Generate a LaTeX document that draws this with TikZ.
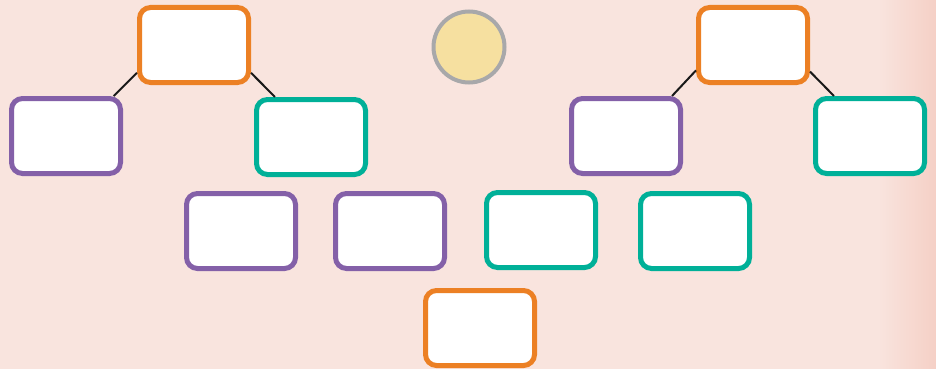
\documentclass[tikz,border=0pt]{standalone}
\usepackage{xcolor}
\usepackage{tikz}
\definecolor{pagebg}{RGB}{249,228,222}
\definecolor{pageedge}{RGB}{245,208,198}
\definecolor{boxorange}{RGB}{236,128,36}
\definecolor{boxpurple}{RGB}{132,96,168}
\definecolor{boxteal}{RGB}{0,176,152}
\definecolor{suncore}{RGB}{246,224,160}
\definecolor{sunrim}{RGB}{168,168,170}

\begin{document}
\begin{tikzpicture}[
    x=1pt,y=-1pt,
    card/.style={draw,line width=5pt,rounded corners=11pt,fill=white,minimum width=109pt,minimum height=75pt,inner sep=0pt},
    orangecard/.style={card,draw=boxorange},
    purplecard/.style={card,draw=boxpurple},
    tealcard/.style={card,draw=boxteal},
    link/.style={line width=2pt,draw=black!90}
  ]
    % page
    \fill[pagebg] (0,0) rectangle (936,369);
    \shade[left color=pagebg,right color=pageedge] (878,0) rectangle (936,369);
    \useasboundingbox (0,0) rectangle (936,369);

    % top row
    \node[orangecard] (ltop) at (194,45) {};
    \node[draw=sunrim,fill=suncore,line width=4pt,circle,minimum size=71pt,inner sep=0pt] (sun) at (469,47) {};
    \node[orangecard] (rtop) at (753,45) {};

    % second row
    \node[purplecard] (lleft) at (66,136) {};
    \node[tealcard] (lright) at (311,137) {};
    \node[purplecard] (rleft) at (626,136) {};
    \node[tealcard] (rright) at (870,136) {};

    % third row
    \node[purplecard] (mid1) at (241,231) {};
    \node[purplecard] (mid2) at (390,231) {};
    \node[tealcard] (mid3) at (541,230) {};
    \node[tealcard] (mid4) at (695,231) {};

    % bottom
    \node[orangecard] (base) at (480,328) {};

    \draw[link] (ltop.206) -- (lleft.40);
    \draw[link] (ltop.334) -- (lright.132);
    \draw[link] (rtop.204) -- (rleft.41);
    \draw[link] (rtop.335) -- (rright.132);
  \end{tikzpicture}
\end{document}
